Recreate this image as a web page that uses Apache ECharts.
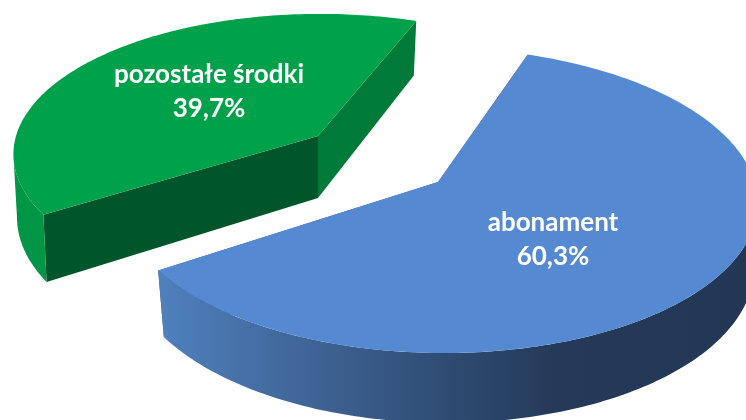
<!DOCTYPE html>
<html>
<head>
<meta charset="utf-8">
<style>html,body{margin:0;padding:0;background:#fff}#c{width:746px;height:420px}</style>
<script src="https://cdn.jsdelivr.net/npm/echarts@6/dist/echarts.min.js"></script>
</head>
<body>
<div id="c"></div>
<script>
const categories = ['pozostałe środki', 'abonament'];
const shares = [39.7, 60.3];

// Drawing set-up for each slice (not data)
const startAngle = 69.2;
const geometry = [
  { top: [318, 136], bottom: [318, 198], A: 304, B: 138, k: 0.13, skew: 0, rot: 0, ox: 2, box: 1, bsx: 0.985, bsy: 1.065,
    label: [209, 92], font: 26,
    topFill: '#00A14B', wallFill: '#009645', frontFill: '#00562A', sideFill: '#007A38' },
  { top: [438, 182], bottom: [438, 245], A: 316.5, B: 150.5, k: 0.12, skew: -6, rot: 1.2, ox: 0, box: 1.5, bsx: 0.985, bsy: 1.04,
    label: [553, 240], font: 26,
    topFill: '#558AD2', frontFill: '#3A5C8C', sideFill: '#3A5C8C',
    wallStops: [[0, '#4F81BD'], [0.12, '#4873AB'], [0.3, '#3C5F8F'], [0.5, '#2D4A70'], [0.66, '#243A59'], [1, '#233755']] }
];
const total = shares.reduce((a, b) => a + b, 0);

function pt(g, deg, bottom) {
  const t = deg * Math.PI / 180, X = Math.cos(t), Y = Math.sin(t);
  const w = 1 + g.k * Y;
  const c = bottom ? g.bottom : g.top;
  const sx = bottom ? g.bsx : 1, sy = bottom ? g.bsy : 1, ox = bottom ? g.box : g.ox;
  return [c[0] + ox + sx * (g.A * X / w + g.skew * Y), c[1] - sy * g.B * Y / w];
}
function arc(g, a0, a1, bottom) {
  const out = [], n = Math.max(2, Math.ceil(Math.abs(a1 - a0)));
  for (let i = 0; i <= n; i++) out.push(pt(g, a0 + (a1 - a0) * i / n, bottom));
  return out;
}
function sliceRange(i) {
  let a = startAngle;
  for (let j = 0; j < i; j++) a += 360 * shares[j] / total;
  return [a, a + 360 * shares[i] / total];
}
function renderSlice(params, api) {
  const i = params.dataIndex, g = geometry[i], value = api.value(0);
  const r = sliceRange(i), a0 = r[0] + g.rot, a1 = a0 + 360 * value / total;
  const children = [];
  const poly = (points, fill) => children.push({ type: 'polygon', shape: { points }, style: { fill, stroke: 'none' } });
  // cut faces
  poly([g.top, pt(g, a1, false), pt(g, a1, true), g.bottom], g.frontFill);
  poly([g.top, pt(g, a0, false), pt(g, a0, true), g.bottom], g.sideFill);
  // outer wall, between the two silhouette angles of the perspective ellipse
  const tangent = Math.asin(g.k) * 180 / Math.PI;
  const wa = Math.max(a0, 180 + tangent), wb = Math.min(a1, 360 - tangent);
  if (wb > wa) {
    const pts = arc(g, wa, wb, false).concat(arc(g, wb, wa, true));
    const fill = g.wallStops
      ? new echarts.graphic.LinearGradient(0, 0, 1, 0, g.wallStops.map(s => ({ offset: s[0], color: s[1] })))
      : g.wallFill;
    poly(pts, fill);
  }
  // top face
  poly([g.top].concat(arc(g, a0, a1, false)), g.topFill);
  // label
  children.push({
    type: 'text',
    style: {
      text: categories[i] + '\n' + value.toFixed(1).replace('.', ',') + '%',
      x: g.label[0], y: g.label[1], align: 'center', verticalAlign: 'middle',
      fill: '#fff', lineHeight: 34,
      font: 'bold ' + g.font + 'px Lato, "Open Sans", sans-serif'
    }
  });
  return { type: 'group', children };
}
const chart = echarts.init(document.getElementById('c'), null, { renderer: 'canvas' });
chart.setOption({
  animation: false,
  backgroundColor: '#fff',
  series: [{
    type: 'custom',
    coordinateSystem: 'none',
    silent: true,
    clip: false,
    data: shares.map((v, i) => ({ name: categories[i], value: [v] })),
    renderItem: renderSlice
  }]
});
</script>
</body>
</html>
